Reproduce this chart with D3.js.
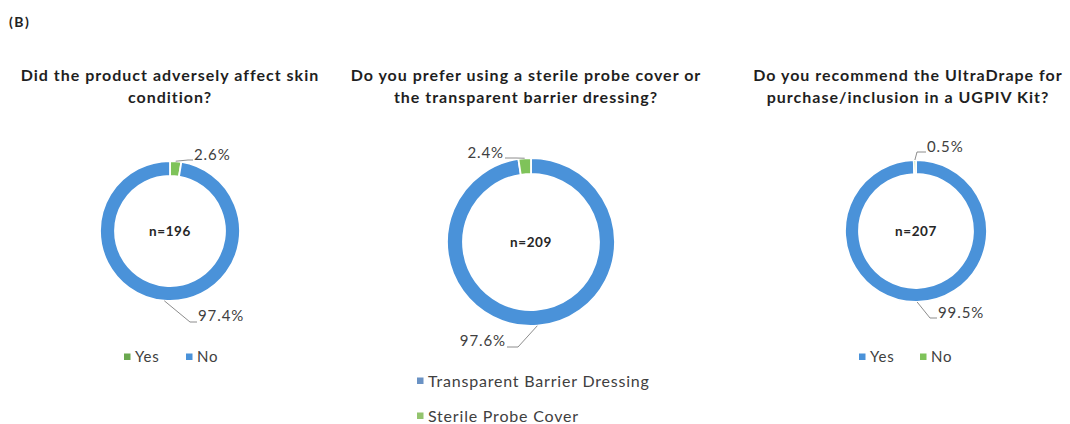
<!DOCTYPE html>
<html><head><meta charset="utf-8">
<script src="https://cdn.jsdelivr.net/npm/d3@7"></script>
<style>body{margin:0;background:#fff}svg{display:block}</style>
</head><body>
<svg id="c" width="1070" height="424"></svg>
<script>
// ---- data ----
const panelTag = "(B)";
const titles = [
  ["Did the product adversely affect skin", "condition?"],
  ["Do you prefer using a sterile probe cover or", "the transparent barrier dressing?"],
  ["Do you recommend the UltraDrape for", "purchase/inclusion in a UGPIV Kit?"]
];
const sampleSizes = [196, 209, 207];
const chart1Categories = ["Yes", "No"];
const chart1Values = [2.6, 97.4];
const chart2Categories = ["Transparent Barrier Dressing", "Sterile Probe Cover"];
const chart2Values = [97.6, 2.4];
const chart3Categories = ["Yes", "No"];
const chart3Values = [99.5, 0.5];

// ---- style / layout ----
const BLUE = "#4a92d9", GREEN = "#7fc35a", GREEN_DARK = "#6aa84f";
const FONT = "Lato, 'Open Sans', sans-serif";
const layout = [
  { cx: 170, cy: 231, r: 70, ir: 55, titleX: 170, colors: [GREEN, BLUE], legendColors: [GREEN_DARK, BLUE],
    labels: [ {dx: 24, dy: -76, anchor: "start", elbow: [18, -71]},
              {dx: 28, dy: 85, anchor: "start", elbow: [20, 91]} ],
    legend: { type: "row", x: 127, y: 357, gap: 62, size: 15 } },
  { cx: 531, cy: 242, r: 84, ir: 68, titleX: 526, colors: [BLUE, GREEN], legendColors: ["#6a92c4", "#93c46e"],
    labels: [ {dx: -25, dy: 99, anchor: "end", elbow: [-13, 105]},
              {dx: -27, dy: -89, anchor: "end", elbow: [-15, -84]} ],
    legend: { type: "col", x: 420, y: 381, gap: 35, size: 16 } },
  { cx: 916, cy: 231, r: 71, ir: 57, titleX: 908, colors: [BLUE, GREEN], legendColors: [BLUE, GREEN],
    labels: [ {dx: 22, dy: 82, anchor: "start", elbow: [14, 87]},
              {dx: 11, dy: -84, anchor: "start", elbow: [1, -79]} ],
    legend: { type: "row", x: 862, y: 357, gap: 61, size: 15 } }
];

const svg = d3.select("#c");
svg.append("text").attr("x", 9).attr("y", 27).attr("font-family", FONT)
  .attr("font-weight", "bold").attr("font-size", 14).attr("letter-spacing", 1.5)
  .attr("fill", "#222").text(panelTag);

const charts = [
  { cats: chart1Categories, vals: chart1Values },
  { cats: chart2Categories, vals: chart2Values },
  { cats: chart3Categories, vals: chart3Values }
];

const pie = d3.pie().sort(null).value(d => d);

charts.forEach((ch, i) => {
  const L = layout[i];
  const g = svg.append("g").attr("transform", `translate(${L.cx},${L.cy})`);
  // title
  const t = svg.append("text").attr("text-anchor", "middle").attr("font-family", FONT)
    .attr("font-weight", "bold").attr("font-size", 16).attr("letter-spacing", 1)
    .attr("fill", "#1f1f1f");
  titles[i].forEach((line, k) => {
    t.append("tspan").attr("x", L.titleX).attr("y", 81 + k * 22).text(line);
  });
  const arcs = pie(ch.vals);
  const arc = d3.arc().innerRadius(L.ir).outerRadius(L.r);
  g.selectAll("path").data(arcs).join("path")
    .attr("d", arc).attr("fill", (d, j) => L.colors[j])
    .attr("stroke", "#fff").attr("stroke-width", 1.8);
  // center label
  g.append("text").attr("text-anchor", "middle").attr("dy", "0.35em")
    .attr("font-family", FONT).attr("font-weight", "bold").attr("font-size", 13.5)
    .attr("letter-spacing", 0.6).attr("fill", "#262626").text("n=" + sampleSizes[i]);
  // data labels with leaders
  arcs.forEach((a, j) => {
    const lab = L.labels[j];
    const mid = (a.startAngle + a.endAngle) / 2;
    const p0 = [Math.sin(mid) * L.r, -Math.cos(mid) * L.r];
    const end = [lab.dx + (lab.anchor === "start" ? -1 : 1), lab.elbow[1]];
    g.append("path")
      .attr("d", d3.line()([p0, lab.elbow, end]))
      .attr("fill", "none").attr("stroke", "#7f7f7f").attr("stroke-width", 0.9);
    g.append("text").attr("x", lab.dx).attr("y", lab.dy).attr("dy", "0.35em")
      .attr("text-anchor", lab.anchor).attr("font-family", FONT).attr("font-size", 15)
      .attr("letter-spacing", 0.9).attr("fill", "#404040").text(ch.vals[j].toFixed(1) + "%");
  });
  // legend
  const lg = svg.append("g");
  ch.cats.forEach((c, j) => {
    const x = L.legend.type === "row" ? L.legend.x + j * L.legend.gap : L.legend.x;
    const y = L.legend.type === "row" ? L.legend.y : L.legend.y + j * L.legend.gap;
    lg.append("rect").attr("x", x - 3).attr("y", y - 3.5).attr("width", 6.5).attr("height", 6.5)
      .attr("fill", L.legendColors[j]);
    lg.append("text").attr("x", x + 8).attr("y", y).attr("dy", "0.35em")
      .attr("font-family", FONT).attr("font-size", L.legend.size)
      .attr("letter-spacing", 0.8).attr("fill", "#404040").text(c);
  });
});
</script>
</body></html>
